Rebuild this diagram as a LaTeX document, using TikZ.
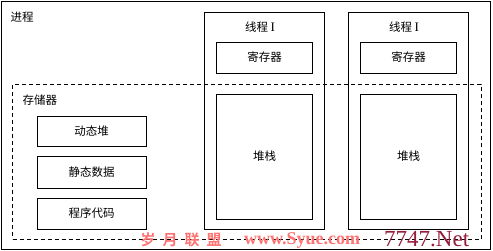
\documentclass[tikz,border=0pt]{standalone}
\usepackage{fontspec}
\setmainfont{Noto Sans CJK SC}
\newfontfamily\romanfont{Liberation Serif}
\newfontfamily\wmfont{Noto Sans CJK SC Bold}
\begin{document}
\begin{tikzpicture}[x=1pt,y=-1pt,
  box/.style={draw,line width=0.8pt,inner sep=0pt},
  dbox/.style={draw,line width=0.8pt,dash pattern=on 4pt off 3pt,inner sep=0pt},
  lbl/.style={font=\fontsize{11.5}{13}\selectfont,inner sep=0pt},
  wm/.style={font=\wmfont\fontsize{15}{15}\selectfont,text=red!55,inner sep=0pt},
  wmlat/.style={font=\romanfont\bfseries\fontsize{18}{18}\selectfont,text=red!55,inner sep=0pt}]
\useasboundingbox (0,0) rectangle (493,251);
% outer process box
\node[box,minimum width=489pt,minimum height=248pt] (proc) at (245.5,125) {};
\node[lbl] (proclbl) at (22,17) {进程};
% dashed memory box
\node[dbox,minimum width=468.5pt,minimum height=154.5pt] (mem) at (246.75,161.75) {};
\node[lbl] (memlbl) at (40,100) {存储器};
% left boxes
\node[box,lbl,draw,line width=0.8pt,minimum width=109pt,minimum height=30pt] (heap) at (91.5,131) {动态堆};
\node[box,lbl,draw,line width=0.8pt,minimum width=109pt,minimum height=32pt] (static) at (91.5,172) {静态数据};
\node[box,lbl,draw,line width=0.8pt,minimum width=109pt,minimum height=31pt] (code) at (91.5,213.5) {程序代码};
% thread 1
\node[box,minimum width=120pt,minimum height=217pt] (t1) at (264,120.5) {};
\node[lbl] (t1lbl) at (260,27) {线程 {\romanfont\fontsize{13}{13}\selectfont I}};
\node[box,lbl,draw,line width=0.8pt,minimum width=96pt,minimum height=31pt] (r1) at (264.5,57.5) {寄存器};
\node[box,lbl,draw,line width=0.8pt,minimum width=96pt,minimum height=125pt] (s1) at (264.5,156.5) {堆栈};
% thread 2
\node[box,minimum width=120pt,minimum height=217pt] (t2) at (408,120.5) {};
\node[lbl] (t2lbl) at (404,27) {线程 {\romanfont\fontsize{13}{13}\selectfont I}};
\node[box,lbl,draw,line width=0.8pt,minimum width=96pt,minimum height=31pt] (r2) at (408.5,57.5) {寄存器};
\node[box,lbl,draw,line width=0.8pt,minimum width=96pt,minimum height=125pt] (s2) at (408.5,156.5) {堆栈};
% watermark
\node[wm] (w1) at (148,240) {岁};
\node[wm] (w2) at (170,240) {月};
\node[wm] (w3) at (192,240) {联};
\node[wm] (w4) at (214,240) {盟};
\node[wmlat,anchor=west] (w5) at (244,240) {www.Syue.com};
\node[font=\romanfont\fontsize{23}{23}\selectfont,text={rgb,255:red,150;green,30;blue,60},inner sep=0pt,anchor=west] (w6) at (384,239) {7747.Net};
\end{tikzpicture}
\end{document}
